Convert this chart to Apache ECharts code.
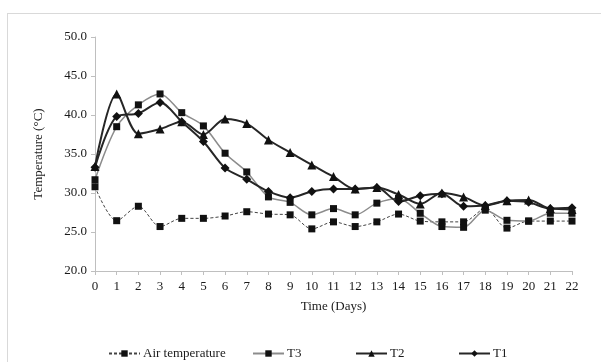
<!DOCTYPE html>
<html>
<head>
<meta charset="utf-8">
<script src="https://cdn.jsdelivr.net/npm/echarts@6/dist/echarts.min.js"></script>
<style>
html,body{margin:0;padding:0;background:#fff;}
#c{width:601px;height:362px;}
</style>
</head>
<body>
<div id="c"></div>
<script>
const days = ['0','1','2','3','4','5','6','7','8','9','10','11','12','13','14','15','16','17','18','19','20','21','22'];
const yTicks = [20, 25, 30, 35, 40, 45, 50];
const airTemp = [30.8, 26.45, 28.3, 25.7, 26.75, 26.75, 27.05, 27.6, 27.3, 27.2, 25.4, 26.3, 25.7, 26.3, 27.3, 26.4, 26.3, 26.3, 28.0, 25.5, 26.4, 26.4, 26.4];
const t3 = [31.7, 38.5, 41.3, 42.7, 40.3, 38.6, 35.1, 32.7, 29.5, 28.8, 27.2, 28.0, 27.2, 28.7, 29.3, 27.4, 25.7, 25.6, 27.8, 26.5, 26.4, 27.4, 27.4];
const t2 = [33.4, 42.7, 37.6, 38.2, 39.15, 37.5, 39.5, 38.9, 36.8, 35.2, 33.6, 32.1, 30.5, 30.7, 29.8, 28.6, 30.0, 29.5, 28.4, 29.0, 29.1, 28.0, 27.9];
const t1 = [33.3, 39.8, 40.2, 41.6, 39.15, 36.6, 33.2, 31.75, 30.2, 29.4, 30.2, 30.5, 30.5, 30.7, 28.9, 29.65, 29.9, 28.3, 28.4, 29.0, 28.8, 28.0, 28.1];

const FONT = 'Liberation Serif';
const axisGray = '#bfbfbf';
const chart = echarts.init(document.getElementById('c'), null, {renderer: 'canvas'});

function legendAt(name, left) {
  return {
    data: [name], left: left, top: 347, itemWidth: 31, itemHeight: 8, itemGap: 0,
    textStyle: {fontFamily: FONT, fontSize: 13, color: '#1a1a1a', padding: [0,0,0,-2]},
    padding: 0
  };
}

chart.setOption({
  animation: false,
  backgroundColor: '#fff',
  textStyle: {fontFamily: FONT},
  grid: {left: 95, right: 29, top: 37, bottom: 91, containLabel: false},
  legend: [
    legendAt('Air temperature', 108),
    legendAt('T3', 252),
    legendAt('T2', 355),
    legendAt('T1', 458)
  ],
  graphic: [
    {type: 'line', shape: {x1: 7, y1: 13.5, x2: 601, y2: 13.5}, style: {stroke: '#d9d9d9', lineWidth: 1}},
    {type: 'line', shape: {x1: 7.5, y1: 13, x2: 7.5, y2: 362}, style: {stroke: '#d9d9d9', lineWidth: 1}}
  ],
  xAxis: {
    type: 'category', data: days, boundaryGap: false,
    name: 'Time (Days)', nameLocation: 'middle', nameGap: 29,
    nameTextStyle: {fontFamily: FONT, fontSize: 13, color: '#1a1a1a'},
    axisLine: {lineStyle: {color: axisGray}},
    axisTick: {show: true, length: 4, interval: 0, lineStyle: {color: axisGray}},
    axisLabel: {interval: 0, margin: 9, fontFamily: FONT, fontSize: 13, color: '#1a1a1a'},
    splitLine: {show: false}
  },
  yAxis: {
    type: 'value', min: yTicks[0], max: yTicks[yTicks.length - 1], interval: 5,
    name: 'Temperature (°C)', nameLocation: 'middle', nameGap: 50,
    nameTextStyle: {fontFamily: FONT, fontSize: 13, color: '#1a1a1a'},
    axisLine: {show: true, lineStyle: {color: axisGray}},
    axisTick: {show: true, length: 4, lineStyle: {color: axisGray}},
    axisLabel: {margin: 8, fontFamily: FONT, fontSize: 13, color: '#1a1a1a', formatter: v => v.toFixed(1)},
    splitLine: {show: false}
  },
  series: [
    {name: 'Air temperature', type: 'line', data: airTemp, smooth: 0.3,
     symbol: 'rect', symbolSize: 7, itemStyle: {color: '#111'},
     lineStyle: {color: '#444', width: 1, type: [3, 2]}, z: 2},
    {name: 'T3', type: 'line', data: t3, smooth: 0.3,
     symbol: 'rect', symbolSize: 7, itemStyle: {color: '#111'},
     lineStyle: {color: '#8c8c8c', width: 1.5}, z: 3},
    {name: 'T2', type: 'line', data: t2, smooth: 0.3,
     symbol: 'triangle', symbolSize: 9, itemStyle: {color: '#111'},
     lineStyle: {color: '#262626', width: 2}, z: 4},
    {name: 'T1', type: 'line', data: t1, smooth: 0.3,
     symbol: 'diamond', symbolSize: 9, itemStyle: {color: '#111'},
     lineStyle: {color: '#262626', width: 2}, z: 5}
  ]
});
</script>
</body>
</html>
